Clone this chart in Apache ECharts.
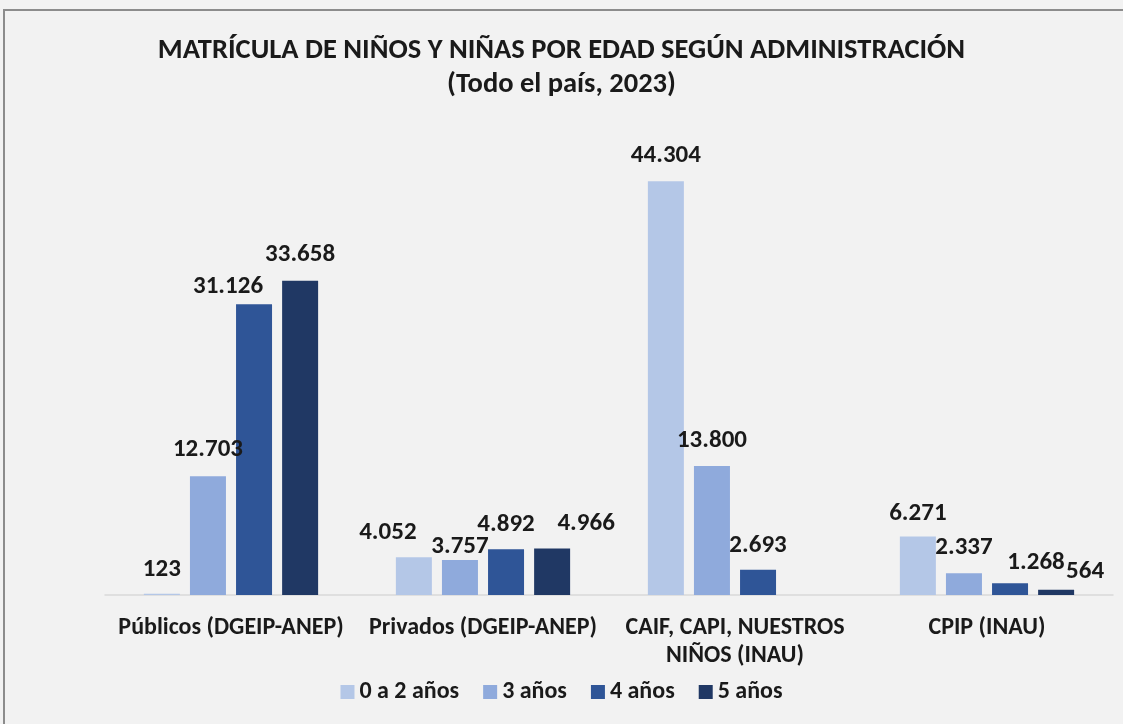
<!DOCTYPE html>
<html>
<head>
<meta charset="utf-8">
<script src="https://cdn.jsdelivr.net/npm/echarts@6/dist/echarts.min.js"></script>
<style>
  html, body { margin: 0; padding: 0; background: #f2f2f2; }
  #chart { width: 1123px; height: 724px; }
</style>
</head>
<body>
<div id="chart"></div>
<script>
const categories = ["Públicos (DGEIP-ANEP)", "Privados (DGEIP-ANEP)", "CAIF, CAPI, NUESTROS\nNIÑOS (INAU)", "CPIP (INAU)"];
const seriesNames = ["0 a 2 años", "3 años", "4 años", "5 años"];
const age0to2 = [123, 4052, 44304, 6271];
const age3 = [12703, 3757, 13800, 2337];
const age4 = [31126, 4892, 2693, 1268];
const age5 = [33658, 4966, null, 564];

// label nudges (x, y) per series and category, to follow the original placement
const labelShift = [
  [[0, -7], [-26, -7], [0, -8], [0, -5]],
  [[0, -9], [0, 4], [0, -8], [0, -8]],
  [[-26, 0], [0, -7], [0, -7], [26, -3]],
  [[0, -8], [34, -7], [0, 0], [29, 0]]
];
const colors = ["#b4c7e7", "#8faadc", "#2f5597", "#203864"];
const font = "Calibri, Carlito, 'Liberation Sans', Arial, sans-serif";

function fmt(v) {
  return String(v).replace(/\B(?=(\d{3})+(?!\d))/g, ".");
}

const allData = [age0to2, age3, age4, age5];

const chart = echarts.init(document.getElementById("chart"));
const option = {
  backgroundColor: "#f2f2f2",
  animation: false,
  title: {
    text: "MATRÍCULA DE NIÑOS Y NIÑAS POR EDAD SEGÚN ADMINISTRACIÓN\n(Todo el país, 2023)",
    left: "center",
    top: 29,
    textStyle: { fontFamily: font, fontSize: 28.5, fontWeight: "bold", color: "#1a1a1a", lineHeight: 34 }
  },
  graphic: [{
    type: "rect",
    shape: { x: 4, y: 10, width: 1130, height: 730 },
    style: { fill: null, stroke: "#8c8c8c", lineWidth: 2 },
    silent: true
  }],
  legend: {
    data: seriesNames,
    top: 675,
    left: "center",
    itemWidth: 14,
    itemHeight: 14,
    itemGap: 24,
    icon: "rect",
    textStyle: { fontFamily: font, fontSize: 24, fontWeight: "bold", color: "#1a1a1a" }
  },
  grid: { left: 105, right: 10, top: 128, bottom: 129 },
  xAxis: {
    type: "category",
    data: categories,
    axisLine: { lineStyle: { color: "#d9d9d9", width: 1.5 } },
    axisTick: { show: false },
    axisLabel: { interval: 0, fontFamily: font, fontSize: 24, fontWeight: "bold", color: "#1a1a1a", margin: 19, lineHeight: 28 }
  },
  yAxis: {
    type: "value",
    min: 0,
    max: 50000,
    show: false,
    splitLine: { show: false }
  },
  series: seriesNames.map(function (name, s) {
    return {
      name: name,
      type: "bar",
      barWidth: 36,
      barGap: "28%",
      itemStyle: { color: colors[s] },
      data: allData[s].map(function (v, c) {
        return {
          value: v === null ? "-" : v,
          label: { offset: labelShift[s][c] }
        };
      }),
      label: {
        show: true,
        position: "top",
        distance: 5,
        fontFamily: font,
        fontSize: 25,
        fontWeight: "bold",
        color: "#1a1a1a",
        formatter: function (p) { return fmt(p.value); }
      }
    };
  })
};
chart.setOption(option);
</script>
</body>
</html>
